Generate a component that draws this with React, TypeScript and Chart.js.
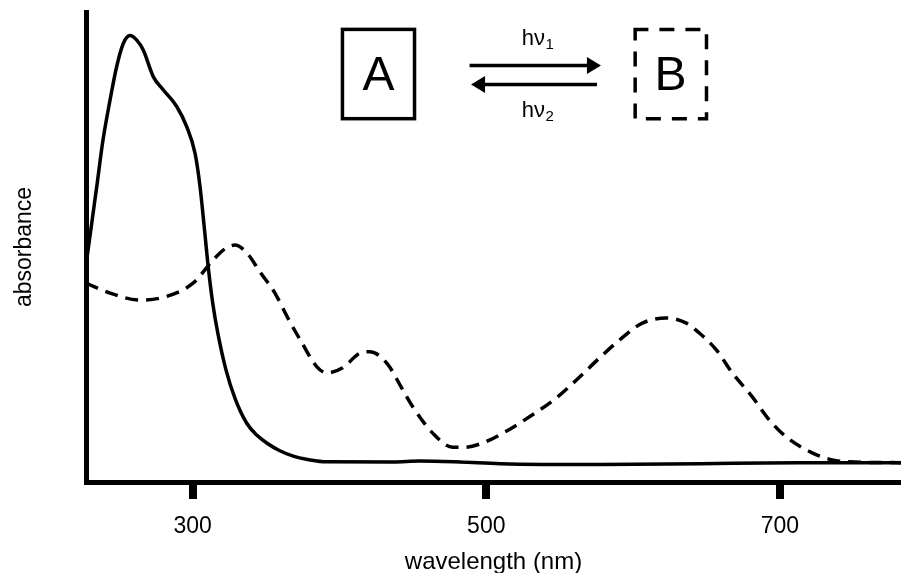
import React, { useEffect, useRef } from "react";
import { Chart, registerables } from "chart.js";

Chart.register(...registerables);

const FONT = "'Liberation Sans', Arial, Helvetica, sans-serif";

// Spectrum of A (solid line)
const wavelengthA = [227.3, 234.6, 238.9, 243.7, 248.2, 252.7, 257.3, 261.9, 266.3, 273.2, 280.0, 289.1, 295.9, 301.6, 305.0, 307.7, 310.8, 313.8, 317.2, 322.7, 328.8, 336.8, 343.6, 350.4, 359.0, 368.5, 380.0, 391.3, 436.4, 454.8, 482.1, 509.3, 577.4, 645.5, 713.6, 782.5];
const absorbanceA = [0.462, 0.628, 0.728, 0.813, 0.884, 0.933, 0.95, 0.94, 0.919, 0.862, 0.834, 0.799, 0.756, 0.699, 0.628, 0.547, 0.451, 0.377, 0.315, 0.238, 0.178, 0.125, 0.1, 0.083, 0.067, 0.055, 0.047, 0.043, 0.0426, 0.0447, 0.0426, 0.039, 0.037, 0.039, 0.041, 0.041];

// Spectrum of B (dashed line)
const wavelengthB = [227.3, 243.7, 264.1, 281.2, 300.2, 313.8, 322, 328.8, 337.0, 345.8, 356.0, 364.8, 374.4, 384.6, 391.4, 402.2, 413.8, 420.6, 432.2, 443.1, 449.9, 463.5, 477.1, 485.2, 497.5, 512.5, 531.5, 547.8, 561.4, 577.1, 590.7, 606.3, 622.7, 636.3, 645.1, 656.7, 667.6, 681.2, 692.8, 704.3, 722.0, 735.6, 747.2, 782.5];
const absorbanceB = [0.423, 0.402, 0.387, 0.394, 0.423, 0.472, 0.496, 0.504, 0.487, 0.447, 0.402, 0.349, 0.296, 0.245, 0.232, 0.243, 0.274, 0.277, 0.253, 0.196, 0.16, 0.104, 0.074, 0.074, 0.083, 0.106, 0.143, 0.179, 0.217, 0.264, 0.302, 0.338, 0.349, 0.338, 0.317, 0.281, 0.232, 0.181, 0.132, 0.096, 0.062, 0.047, 0.043, 0.041];

const xTickValues = [300, 500, 700];
const xRange = [227.3, 782.5];
const yRange = [0, 1];

// Scheme annotation (data coordinates: wavelength, absorbance)
const boxA = { x0: 402.0, x1: 451.1, y0: 0.773, y1: 0.963, label: "A", labelX: 426.6, labelY: 0.834 };
const boxB = { x0: 601.4, x1: 650.0, y0: 0.773, y1: 0.963, label: "B", labelX: 625.5, labelY: 0.834 };
const arrowForward = { from: 488.6, to: 578.1, y: 0.886, label: "hν", sub: "1", labelX: 534.9, labelY: 0.93 };
const arrowBack = { from: 575.4, to: 489.6, y: 0.846, label: "hν", sub: "2", labelX: 534.9, labelY: 0.777 };

function toData(xs: number[], ys: number[]) {
  return xs.map((x, i) => ({ x, y: ys[i] }));
}

const schemePlugin = {
  id: "scheme",
  afterDatasetsDraw(chart: any) {
    const { ctx, scales } = chart;
    const sx = scales.x;
    const sy = scales.y;
    const px = (v: number) => sx.getPixelForValue(v);
    const py = (v: number) => sy.getPixelForValue(v);
    ctx.save();
    ctx.strokeStyle = "#000";
    ctx.fillStyle = "#000";
    ctx.lineCap = "butt";
    ctx.lineJoin = "miter";

    // box A (solid)
    ctx.lineWidth = 3.5;
    ctx.setLineDash([]);
    ctx.strokeRect(px(boxA.x0), py(boxA.y1), px(boxA.x1) - px(boxA.x0), py(boxA.y0) - py(boxA.y1));

    // box B (dashed)
    ctx.setLineDash([15, 11]);
    ctx.beginPath();
    ctx.moveTo(px(boxB.x0) - 1.75, py(boxB.y1));
    ctx.lineTo(px(boxB.x1), py(boxB.y1));
    ctx.lineTo(px(boxB.x1), py(boxB.y0));
    ctx.lineTo(px(boxB.x0), py(boxB.y0));
    ctx.lineTo(px(boxB.x0), py(boxB.y1));
    ctx.stroke();
    ctx.setLineDash([]);

    // letters
    ctx.font = `48px ${FONT}`;
    ctx.textAlign = "center";
    ctx.textBaseline = "alphabetic";
    ctx.fillText(boxA.label, px(boxA.labelX), py(boxA.labelY));
    ctx.fillText(boxB.label, px(boxB.labelX), py(boxB.labelY));

    // arrows
    const head = 14;
    const half = 8.5;
    for (const a of [arrowForward, arrowBack]) {
      const x0 = px(a.from);
      const x1 = px(a.to);
      const yy = py(a.y);
      const dir = x1 > x0 ? 1 : -1;
      ctx.lineWidth = 3.5;
      ctx.beginPath();
      ctx.moveTo(x0, yy);
      ctx.lineTo(x1 - dir * (head - 1), yy);
      ctx.stroke();
      ctx.beginPath();
      ctx.moveTo(x1, yy);
      ctx.lineTo(x1 - dir * head, yy - half);
      ctx.lineTo(x1 - dir * head, yy + half);
      ctx.closePath();
      ctx.fill();

      // label h nu with subscript
      ctx.textAlign = "left";
      ctx.font = `22px ${FONT}`;
      const w1 = ctx.measureText(a.label).width;
      ctx.font = `15px ${FONT}`;
      const w2 = ctx.measureText(a.sub).width;
      const start = px(a.labelX) - (w1 + w2) / 2;
      const base = py(a.labelY);
      ctx.font = `22px ${FONT}`;
      ctx.fillText(a.label, start, base);
      ctx.font = `15px ${FONT}`;
      ctx.fillText(a.sub, start + w1 + 0.5, base + 4);
    }
    ctx.restore();
  },
};

export default function App() {
  const canvasRef = useRef<HTMLCanvasElement | null>(null);

  useEffect(() => {
    const canvas = canvasRef.current;
    if (!canvas) return;
    const chart = new Chart(canvas, {
      type: "line",
      data: {
        datasets: [
          {
            label: "A",
            data: toData(wavelengthA, absorbanceA),
            borderColor: "#000",
            borderWidth: 3.5,
            pointRadius: 0,
            fill: false,
            cubicInterpolationMode: "monotone",
          },
          {
            label: "B",
            data: toData(wavelengthB, absorbanceB),
            borderColor: "#000",
            borderWidth: 3.5,
            borderDash: [13, 8],
            pointRadius: 0,
            fill: false,
            cubicInterpolationMode: "monotone",
          },
        ],
      },
      options: {
        animation: false,
        responsive: true,
        maintainAspectRatio: false,
        layout: { padding: { top: 12, right: 0, left: 0, bottom: 0 } },
        plugins: {
          legend: { display: false },
          tooltip: { enabled: false },
        },
        scales: {
          x: {
            type: "linear",
            min: xRange[0],
            max: xRange[1],
            afterBuildTicks: (scale: any) => {
              scale.ticks = xTickValues.map((v) => ({ value: v }));
            },
            afterFit: (scale: any) => {
              scale.height = 91;
            },
            grid: {
              drawOnChartArea: false,
              drawTicks: true,
              tickLength: 17,
              lineWidth: 8,
              color: "#000",
              tickColor: "#000",
            },
            border: { display: true, width: 5, color: "#000" },
            ticks: {
              color: "#000",
              font: { family: FONT, size: 23 },
              padding: 14,
              maxRotation: 0,
              autoSkip: false,
            },
            title: {
              display: true,
              text: "wavelength (nm)",
              color: "#000",
              font: { family: FONT, size: 24 },
              padding: { top: 0, bottom: -4 },
            },
          },
          y: {
            type: "linear",
            min: yRange[0],
            max: yRange[1],
            afterFit: (scale: any) => {
              scale.width = 86;
            },
            ticks: { display: false },
            grid: { display: false, drawTicks: false },
            border: { display: true, width: 5, color: "#000" },
            title: {
              display: true,
              text: "absorbance",
              color: "#000",
              font: { family: FONT, size: 23 },
              padding: { top: 11, bottom: 0 },
            },
          },
        },
      },
      plugins: [schemePlugin],
    } as any);
    return () => chart.destroy();
  }, []);

  return (
    <div style={{ position: "fixed", left: 0, top: 0, width: 901, height: 573, background: "#fff" }}>
      <canvas ref={canvasRef} />
    </div>
  );
}
